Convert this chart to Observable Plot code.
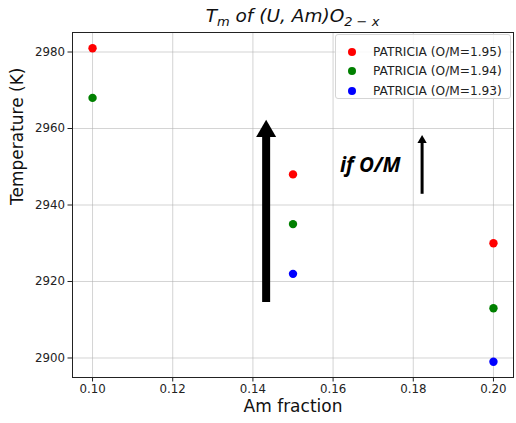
<!DOCTYPE html>
<html><head><meta charset="utf-8">
<script src="https://cdn.jsdelivr.net/npm/d3@7"></script>
<script src="https://cdn.jsdelivr.net/npm/@observablehq/plot@0.6"></script>
<style>
body{margin:0;background:#fff;}
#wrap{position:relative;width:516px;height:423px;font-family:"DejaVu Sans",sans-serif;color:#111;}
#title{position:absolute;left:72px;width:441px;top:5px;text-align:center;font-size:18.5px;font-style:italic;white-space:nowrap;line-height:22px;}
#title sub{font-size:13px;vertical-align:-4px;line-height:0;}
#legend{position:absolute;left:335px;top:34px;width:174px;height:63px;border:1px solid #d5d5d5;border-radius:3px;background:rgba(255,255,255,0.85);font-size:12.2px;}
.row{position:absolute;left:0;height:16px;line-height:16px;white-space:nowrap;}
.sw{position:absolute;left:12px;top:4px;width:8px;height:8px;border-radius:50%;}
.lab{position:absolute;left:37px;top:0;color:#222;}
</style></head><body><div id="wrap"></div>
<script>
// ---- data ----
const amFraction = [0.10, 0.15, 0.20];
const seriesNames = ["PATRICIA (O/M=1.95)", "PATRICIA (O/M=1.94)", "PATRICIA (O/M=1.93)"];
const seriesColors = ["red", "green", "blue"];
const temp195 = [2981, 2948, 2930];
const temp194 = [2968, 2935, 2913];
const temp193 = [null, 2922, 2899];
const xTicks = [0.10, 0.12, 0.14, 0.16, 0.18, 0.20];
const yTicks = [2900, 2920, 2940, 2960, 2980];
const arrowX = [0.1433, 0.1822];
const arrowFrom = [2914.5, 2942.8];
const arrowTo = [2962.3, 2958.3];
const noteText = ["if O/M"];
const noteX = [0.1617];
const noteY = [2950.4];
const xLabel = "Am fraction";
const yLabel = "Temperature (K)";

// ---- build tables ----
const seriesTemps = [temp195, temp194, temp193];
const pointsBySeries = seriesTemps.map((temps, s) =>
  amFraction.map((x, i) => ({x, y: temps[i], series: seriesNames[s]})).filter(d => d.y != null));
const arrows = arrowX.map((x, i) => ({x, tail: arrowFrom[i], tip: arrowTo[i]}));
const notes = noteText.map((t, i) => ({t, x: noteX[i], y: noteY[i]}));

const allY = seriesTemps.flat().filter(v => v != null);
const yMin = d3.min(allY), yMax = d3.max(allY);
const yPad = (yMax - yMin) * 0.05;
const xMin = d3.min(amFraction), xMax = d3.max(amFraction);
const xPad = (xMax - xMin) * 0.05;

const chart = Plot.plot({
  width: 516, height: 423,
  marginLeft: 72, marginRight: 3, marginTop: 32, marginBottom: 46,
  style: {fontFamily: "DejaVu Sans", fontSize: "11.8px", color: "#222", background: "white"},
  x: {domain: [xMin - xPad, xMax + xPad]},
  y: {domain: [yMin - yPad, yMax + yPad]},
  marks: [
    Plot.gridX(xTicks, {stroke: "#b0b0b0", strokeOpacity: 0.55, strokeWidth: 1}),
    Plot.gridY(yTicks, {stroke: "#b0b0b0", strokeOpacity: 0.55, strokeWidth: 1}),
    Plot.axisX({ticks: xTicks, tickFormat: d3.format(".2f"), tickSize: 4.5, tickPadding: 3, label: null, stroke: "#222"}),
    Plot.axisY({ticks: yTicks, tickFormat: d => String(d), tickSize: 4.5, tickPadding: 3, label: null, stroke: "#222"}),
    Plot.text([xLabel], {frameAnchor: "bottom", dy: 34.5, text: d => d, fontSize: 17, fill: "#111"}),
    Plot.text([yLabel], {frameAnchor: "left", dx: -55, rotate: -90, text: d => d, fontSize: 17, fill: "#111"}),
    // big arrow
    Plot.ruleX([arrows[0]], {x: "x", y1: "tip", y2: "tail", stroke: "black", strokeWidth: 8, insetTop: 14}),
    Plot.dot([arrows[0]], {x: "x", y: "tip", symbol: "triangle", r: 7.42, fill: "black", stroke: "none", dy: 11.5}),
    // small arrow
    Plot.ruleX([arrows[1]], {x: "x", y1: "tip", y2: "tail", stroke: "black", strokeWidth: 3, insetTop: 6}),
    Plot.dot([arrows[1]], {x: "x", y: "tip", symbol: "triangle", r: 3.45, fill: "black", stroke: "none", dy: 5.4}),
    Plot.text(notes, {x: "x", y: "y", text: "t", textAnchor: "start", fontSize: 20.5, fontWeight: "bold", fontStyle: "italic", fontFamily: "Open Sans", fill: "black"}),
    ...pointsBySeries.map((pts, s) => Plot.dot(pts, {x: "x", y: "y", r: 4.2, fill: seriesColors[s], stroke: "none"})),
    Plot.frame({stroke: "#222", strokeWidth: 1})
  ]
});

const wrap = document.getElementById("wrap");
wrap.appendChild(chart);

const title = document.createElement("div");
title.id = "title";
title.innerHTML = "T<sub>m</sub> of (U, Am)O<sub>2 − x</sub>";
wrap.appendChild(title);

const legend = document.createElement("div");
legend.id = "legend";
seriesNames.forEach((name, i) => {
  const row = document.createElement("div");
  row.className = "row";
  row.style.top = (8.5 + i * 19.6) + "px";
  const sw = document.createElement("span");
  sw.className = "sw";
  sw.style.background = seriesColors[i];
  const lab = document.createElement("span");
  lab.className = "lab";
  lab.textContent = name;
  row.appendChild(sw); row.appendChild(lab);
  legend.appendChild(row);
});
wrap.appendChild(legend);
</script></body></html>
